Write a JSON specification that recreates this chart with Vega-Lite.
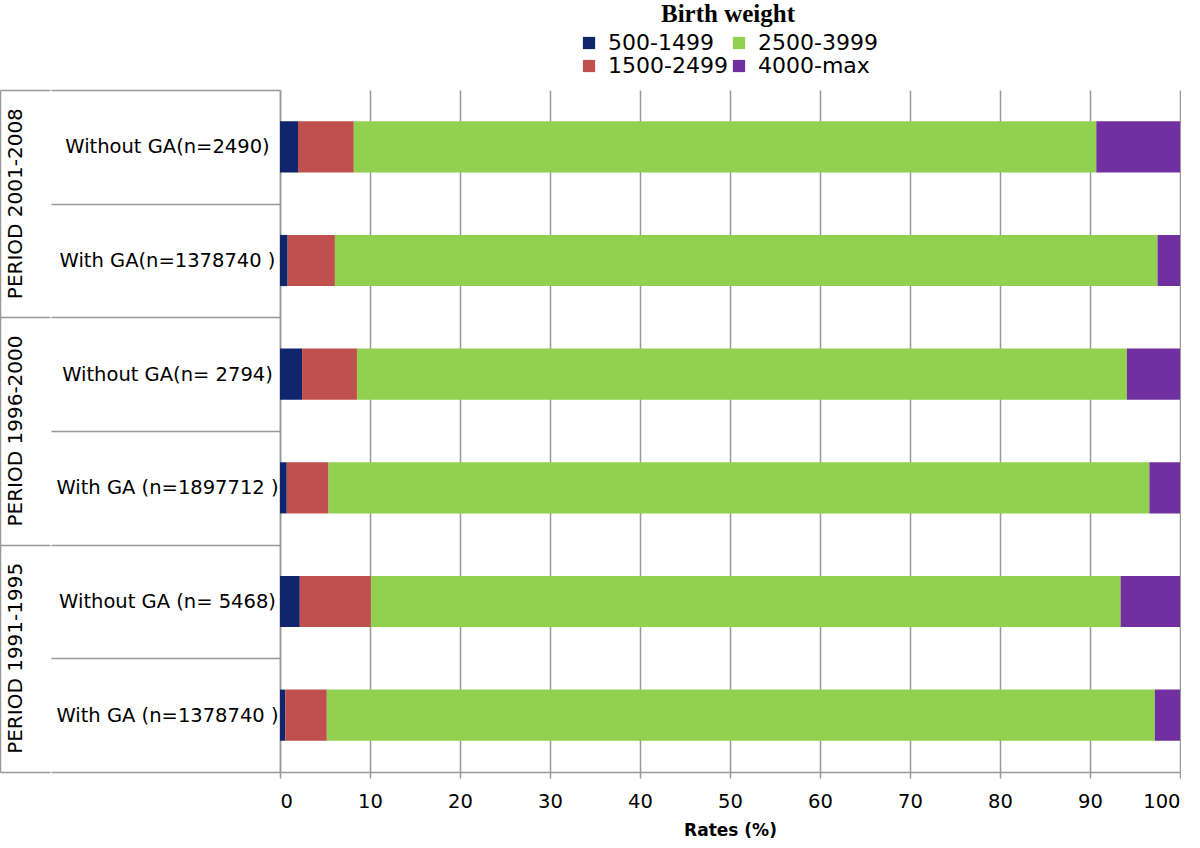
{
  "$schema": "https://vega.github.io/schema/vega-lite/v6.json",
  "padding": {"left": 0, "top": 2, "right": 0, "bottom": 0},
  "spacing": 0,
  "config": {"view": {"stroke": null}, "font": "DejaVu Sans", "concat": {"spacing": 0}},
  "datasets": {
    "periods": [
      {"period": "PERIOD 2001-2008"},
      {"period": "PERIOD 1996-2000"},
      {"period": "PERIOD 1991-1995"}
    ],
    "bars": [
      {"label": "Without GA(n=2490)", "bw": "500-1499", "ord": 1, "pct": 2.0},
      {"label": "Without GA(n=2490)", "bw": "1500-2499", "ord": 2, "pct": 6.2},
      {"label": "Without GA(n=2490)", "bw": "2500-3999", "ord": 3, "pct": 82.5},
      {"label": "Without GA(n=2490)", "bw": "4000-max", "ord": 4, "pct": 9.3},
      {"label": "With GA(n=1378740 )", "bw": "500-1499", "ord": 1, "pct": 0.85},
      {"label": "With GA(n=1378740 )", "bw": "1500-2499", "ord": 2, "pct": 5.25},
      {"label": "With GA(n=1378740 )", "bw": "2500-3999", "ord": 3, "pct": 91.4},
      {"label": "With GA(n=1378740 )", "bw": "4000-max", "ord": 4, "pct": 2.5},
      {"label": "Without GA(n= 2794)", "bw": "500-1499", "ord": 1, "pct": 2.45},
      {"label": "Without GA(n= 2794)", "bw": "1500-2499", "ord": 2, "pct": 6.1},
      {"label": "Without GA(n= 2794)", "bw": "2500-3999", "ord": 3, "pct": 85.55},
      {"label": "Without GA(n= 2794)", "bw": "4000-max", "ord": 4, "pct": 5.9},
      {"label": "With GA (n=1897712 )", "bw": "500-1499", "ord": 1, "pct": 0.75},
      {"label": "With GA (n=1897712 )", "bw": "1500-2499", "ord": 2, "pct": 4.65},
      {"label": "With GA (n=1897712 )", "bw": "2500-3999", "ord": 3, "pct": 91.2},
      {"label": "With GA (n=1897712 )", "bw": "4000-max", "ord": 4, "pct": 3.4},
      {"label": "Without GA (n= 5468)", "bw": "500-1499", "ord": 1, "pct": 2.2},
      {"label": "Without GA (n= 5468)", "bw": "1500-2499", "ord": 2, "pct": 7.9},
      {"label": "Without GA (n= 5468)", "bw": "2500-3999", "ord": 3, "pct": 83.3},
      {"label": "Without GA (n= 5468)", "bw": "4000-max", "ord": 4, "pct": 6.6},
      {"label": "With GA (n=1378740 )", "bw": "500-1499", "ord": 1, "pct": 0.6},
      {"label": "With GA (n=1378740 )", "bw": "1500-2499", "ord": 2, "pct": 4.6},
      {"label": "With GA (n=1378740 )", "bw": "2500-3999", "ord": 3, "pct": 92.0},
      {"label": "With GA (n=1378740 )", "bw": "4000-max", "ord": 4, "pct": 2.8}
    ]
  },
  "hconcat": [
    {
      "width": 50,
      "height": 682,
      "data": {"name": "periods"},
      "mark": {"type": "text", "angle": -90, "fontSize": 20, "font": "DejaVu Sans", "color": "#000000", "dy": -9, "baseline": "middle", "align": "center"},
      "encoding": {
        "y": {
          "field": "period", "type": "nominal",
          "sort": ["PERIOD 2001-2008", "PERIOD 1996-2000", "PERIOD 1991-1995"],
          "scale": {"paddingInner": 0, "paddingOuter": 0},
          "axis": {"orient": "left", "title": null, "labels": false, "ticks": false, "domain": true, "domainColor": "#999999", "domainWidth": 1.5, "grid": true, "gridColor": "#999999", "gridWidth": 1.5, "tickBand": "extent"}
        },
        "text": {"field": "period"}
      }
    },
    {
      "width": 900,
      "height": 682,
      "data": {"name": "bars"},
      "mark": {"type": "bar", "height": {"band": 0.45}},
      "encoding": {
        "y": {
          "field": "label", "type": "nominal",
          "sort": ["Without GA(n=2490)", "With GA(n=1378740 )", "Without GA(n= 2794)", "With GA (n=1897712 )", "Without GA (n= 5468)", "With GA (n=1378740 )"],
          "scale": {"paddingInner": 0, "paddingOuter": 0},
          "axis": {"title": null, "tickBand": "extent", "tickSize": 229, "tickColor": "#999999", "tickWidth": 1.5, "domainColor": "#999999", "domainWidth": 1.5, "labelAlign": "center", "labelBaseline": "middle", "labelPadding": -116, "labelFontSize": 19.5, "labelFont": "DejaVu Sans", "labelColor": "#000000", "labelLimit": 0}
        },
        "x": {
          "field": "pct", "type": "quantitative", "stack": "zero",
          "scale": {"domain": [0, 100], "nice": false},
          "axis": {"values": [0, 10, 20, 30, 40, 50, 60, 70, 80, 90, 100], "grid": true, "gridColor": "#999999", "gridWidth": 1.5, "domainColor": "#999999", "domainWidth": 1.5, "tickColor": "#999999", "tickWidth": 1.5, "tickSize": 6, "labelFontSize": 19.5, "labelFont": "DejaVu Sans", "labelColor": "#000000", "labelPadding": 14, "title": "Rates (%)", "titleFont": "DejaVu Sans", "titleFontSize": 17, "titleFontWeight": "bold", "titlePadding": 12, "titleColor": "#000000"}
        },
        "color": {
          "field": "bw", "type": "nominal",
          "scale": {"domain": ["500-1499", "1500-2499", "2500-3999", "4000-max"], "range": ["#10256b", "#c0504d", "#92d050", "#7030a0"]},
          "legend": {"orient": "none", "legendX": 578, "legendY": -88, "title": "Birth weight", "titleFont": "Liberation Serif", "titleFontSize": 25, "titleFontWeight": "bold", "titleColor": "#000000", "titleAnchor": "middle", "titlePadding": 5, "columns": 2, "columnPadding": -14, "rowPadding": 1, "symbolType": "square", "symbolSize": 150, "symbolStrokeWidth": 0, "labelFont": "DejaVu Sans", "labelFontSize": 22, "labelColor": "#000000", "labelOffset": 8, "padding": 0, "labelLimit": 0}
        },
        "order": {"field": "ord", "type": "quantitative"}
      }
    }
  ]
}
